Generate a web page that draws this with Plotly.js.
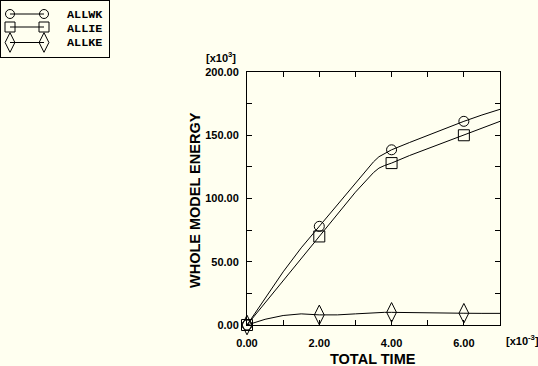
<!DOCTYPE html>
<html><head><meta charset="utf-8">
<script src="https://cdn.plot.ly/plotly-3.0.1.min.js"></script>
<style>html,body{margin:0;padding:0;background:#FFFFF0;overflow:hidden}#chart{width:538px;height:366px}</style>
</head><body><div id="chart"></div>
<script>
// ---- data ----
const seriesNames = ['ALLWK', 'ALLIE', 'ALLKE'];
const time  = [0, 0.5, 1, 1.5, 2, 2.5, 3, 3.5, 3.65, 3.8, 4, 4.5, 5, 5.5, 6, 6.5, 7];
const allwk = [0, 21, 42, 61, 78, 95, 112, 129, 133, 135.5, 138.5, 144.3, 150, 155.5, 161, 166, 170.5];
const allie = [0, 17.5, 35, 52.5, 70, 87.5, 105, 120.5, 124, 126, 128, 134, 139.5, 145, 150, 155.5, 161];
const allke = [0, 4.5, 7.5, 8.8, 8, 8, 8.8, 9.8, 10, 10, 10, 9.7, 9.5, 9.4, 9.3, 9.2, 9.2];
const markTimes = [0, 2, 4, 6];
const xTickVals = [0, 2, 4, 6];
const xTickText = ['0.00', '2.00', '4.00', '6.00'];
const yTickVals = [0, 50, 100, 150, 200];
const yTickText = ['0.00', '50.00', '100.00', '150.00', '200.00'];

// ---- styling ----
const W = 538, H = 366;
const plotL = 247, plotR = 500, plotT = 72, plotB = 325;
const bg = '#FFFFF0';
const symbols = ['circle-open', 'square-open', 'diamond-tall-open'];
const mainSizes = [10, 11, 14];
const legendSizes = [9, 10, 14];
const legendRows = [14, 27, 42.5];
const legendTextRows = [15, 28.5, 43];
const bold = {family: 'Liberation Sans, Arial, sans-serif', weight: 'bold', color: '#000'};

const series = [allwk, allie, allke];
const traces = [];
series.forEach((vals, i) => {
  traces.push({x: time, y: vals, mode: 'lines', line: {color: '#000', width: 1},
    xaxis: 'x', yaxis: 'y', hoverinfo: 'skip'});
  const mx = markTimes, my = markTimes.map(t => vals[time.indexOf(t)]);
  traces.push({x: mx, y: my, mode: 'markers', cliponaxis: false,
    marker: {symbol: symbols[i], size: mainSizes[i], color: '#000', line: {color: '#000', width: 1}},
    xaxis: 'x', yaxis: 'y', hoverinfo: 'skip'});
  // legend sample on its own pixel-unit axes
  traces.push({x: [10, 44], y: [legendRows[i], legendRows[i]], mode: 'lines+markers', cliponaxis: false,
    line: {color: '#000', width: 1},
    marker: {symbol: symbols[i], size: legendSizes[i], color: '#000', line: {color: '#000', width: 1}},
    xaxis: 'x2', yaxis: 'y2', hoverinfo: 'skip'});
});

const annotations = seriesNames.map((n, i) => ({
  xref: 'x2', yref: 'y2', x: 65, y: legendTextRows[i], text: n, showarrow: false,
  xanchor: 'left', yanchor: 'middle',
  font: {family: 'Liberation Mono, Courier New, monospace', weight: 'bold', size: 11.8, color: '#000'}
}));
annotations.push({xref: 'paper', yref: 'paper', x: 195 / W, y: 1 - 200 / H, text: 'WHOLE MODEL ENERGY',
  textangle: -90, showarrow: false, xanchor: 'center', yanchor: 'middle', font: Object.assign({size: 14.5}, bold)});
annotations.push({xref: 'paper', yref: 'paper', x: 373 / W, y: 1 - 358.5 / H, text: 'TOTAL TIME',
  showarrow: false, xanchor: 'center', yanchor: 'middle', font: Object.assign({size: 14.5}, bold)});
annotations.push({xref: 'paper', yref: 'paper', x: 221 / W, y: 1 - 57 / H, text: '[x10<sup>3</sup>]',
  showarrow: false, xanchor: 'center', yanchor: 'middle', font: Object.assign({size: 11}, bold)});
annotations.push({xref: 'paper', yref: 'paper', x: 522 / W, y: 1 - 340 / H, text: '[x10<sup>-3</sup>]',
  showarrow: false, xanchor: 'center', yanchor: 'middle', font: Object.assign({size: 11}, bold)});

const axisCommon = {showline: true, linecolor: '#000', linewidth: 1, mirror: 'ticks', ticks: 'inside',
  ticklen: 5, tickwidth: 1, tickcolor: '#000', showgrid: false, zeroline: false,
  tickfont: Object.assign({size: 11}, bold)};

const layout = {
  width: W, height: H, margin: {l: 0, r: 0, t: 0, b: 0},
  paper_bgcolor: bg, plot_bgcolor: bg, showlegend: false,
  xaxis: Object.assign({}, axisCommon, {domain: [plotL / W, plotR / W], range: [0, 7], anchor: 'y',
    tickvals: xTickVals, ticktext: xTickText, ticklabelstandoff: 8,
    minor: {dtick: 1, ticks: 'inside', ticklen: 5, tickcolor: '#000', showgrid: false}}),
  yaxis: Object.assign({}, axisCommon, {domain: [1 - plotB / H, 1 - plotT / H], range: [0, 200], anchor: 'x',
    tickvals: yTickVals, ticktext: yTickText, ticklabelstandoff: 5,
    minor: {dtick: 25, ticks: 'inside', ticklen: 5, tickcolor: '#000', showgrid: false}}),
  xaxis2: {domain: [1 / W, 109 / W], range: [1, 109], anchor: 'y2', showline: true, mirror: true,
    linecolor: '#000', linewidth: 1, ticks: '', showticklabels: false, showgrid: false, zeroline: false},
  yaxis2: {domain: [1 - 57 / H, 1 - 1 / H], range: [57, 1], anchor: 'x2', showline: true, mirror: true,
    linecolor: '#000', linewidth: 1, ticks: '', showticklabels: false, showgrid: false, zeroline: false},
  annotations: annotations
};

Plotly.newPlot('chart', traces, layout, {staticPlot: true, displayModeBar: false});
</script>
</body></html>
